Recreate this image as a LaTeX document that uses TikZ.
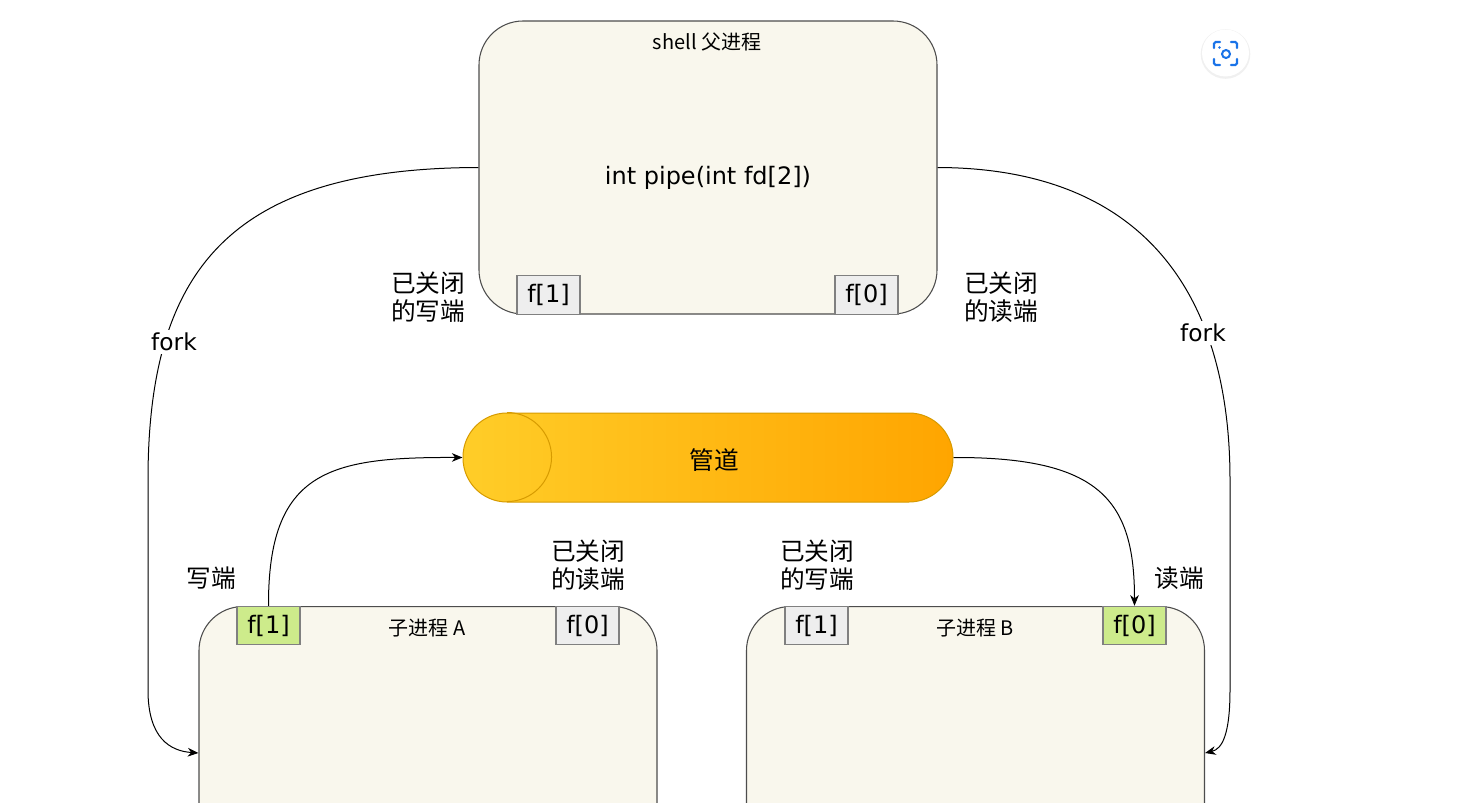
\documentclass[tikz,border=0pt]{standalone}
\usepackage{fontspec}
\setmainfont{DejaVu Sans}
\newfontfamily\cjk{Noto Sans CJK SC}
\usetikzlibrary{arrows.meta,calc}
\definecolor{cream}{HTML}{F9F7ED}
\definecolor{boxline}{HTML}{4D4D4D}
\definecolor{fdgrayfill}{HTML}{EEEEEE}
\definecolor{fdline}{HTML}{808080}
\definecolor{fdgreenfill}{HTML}{CDEB8B}
\definecolor{pipeL}{HTML}{FFCD28}
\definecolor{pipeR}{HTML}{FFA500}
\definecolor{pipeline}{HTML}{D79B00}
\definecolor{lensblue}{HTML}{1A73E8}
\begin{document}
\begin{tikzpicture}[x=0.75pt,y=0.75pt,
  proc/.style={draw=boxline, fill=cream, line width=0.8pt, rounded corners=33pt, inner sep=0pt, minimum width=343.5pt},
  fd/.style={draw=fdline, line width=0.8pt, inner sep=0pt, minimum width=47.25pt, minimum height=28.8pt, font=\fontsize{18}{21}\selectfont},
  fdg/.style={fd, fill=fdgrayfill},
  fdv/.style={fd, fill=fdgreenfill},
  cn/.style={font=\cjk\fontsize{18.5}{21}\selectfont, align=center, inner sep=1pt},
  ttl/.style={font=\cjk\fontsize{15}{17}\selectfont, inner sep=1pt},
  conn/.style={draw=black, line width=0.75pt, -{Stealth[length=8pt,width=6.5pt,inset=2.5pt]}},
  forklbl/.style={fill=white, inner sep=2pt, font=\fontsize{17.5}{20}\selectfont},
  pipestyle/.style={draw=pipeline, left color=pipeL, right color=pipeR, rounded corners=33pt, minimum width=367.5pt, minimum height=66.75pt, inner sep=0pt, line width=0.75pt}
]
\useasboundingbox (0,0) rectangle (1464,-803);
\fill[white] (0,0) rectangle (1464,-803);
\clip (0,0) rectangle (1464,-803);

% parent process
\node[proc, minimum height=219.75pt] (parent) at (708,-167.5) {};
\node[ttl] (ptitle) at (707,-42) {shell 父进程};
\node[font=\fontsize{18}{22}\selectfont] (call) at (708,-178) {int pipe(int fd[2])};
\node[fdg] (pf1) at (548.5,-295) {f[1]};
\node[fdg] (pf0) at (866.5,-295) {f[0]};

% children
\node[proc, minimum height=300pt, anchor=north] (chA) at (428,-606) {};
\node[proc, minimum height=300pt, anchor=north] (chB) at (975.5,-606) {};
\node[ttl] (atitle) at (427,-628) {子进程 A};
\node[ttl] (btitle) at (975,-628) {子进程 B};
\node[fdv] (af1) at (268.5,-625.5) {f[1]};
\node[fdg] (af0) at (587.5,-625.5) {f[0]};
\node[fdg] (bf1) at (816.5,-625.5) {f[1]};
\node[fdv] (bf0) at (1134.5,-625.5) {f[0]};

% pipe
\node[pipestyle] (pipe) at (708,-457.5) {};
\draw[pipeline, line width=0.75pt] ($(pipe.north west)+(44.5,0)$) arc[start angle=90, end angle=-90, x radius=33.4pt, y radius=33.4pt];
\node[font=\cjk\fontsize{18.5}{21}\selectfont] (pipetxt) at (714,-460) {管道};

% connectors
\draw[conn] (parent.west) .. controls (230,-168) and (148,-270) .. (148,-480) -- (148,-690) .. controls (148,-738) and (170,-751) .. ($(chA.north west)+(0,-147)$);
\draw[conn] (parent.east) .. controls (1140,-168) and (1230,-290) .. (1230,-480) -- (1230,-690) .. controls (1230,-735) and (1222,-749) .. ($(chB.north east)+(0,-147)$);
\draw[conn] (af1.north) .. controls (268,-470) and (330,-457) .. (pipe.west);
\draw[conn] (pipe.east) .. controls (1100,-457) and (1134.5,-500) .. (bf0.north);

\node[forklbl] (fkL) at (174,-342) {fork};
\node[forklbl] (fkR) at (1203,-333) {fork};

% labels
\node[cn] (lw) at (428,-297) {已关闭\\的写端};
\node[cn] (lr) at (1001,-297) {已关闭\\的读端};
\node[cn] (aw) at (211,-578) {写端};
\node[cn] (ar) at (588,-565) {已关闭\\的读端};
\node[cn] (bw) at (817,-565) {已关闭\\的写端};
\node[cn] (br) at (1179,-578) {读端};

% lens icon
\fill[black!6] (1225.5,-54) circle (18.6pt);
\fill[white] (1225.5,-53) circle (17.6pt);
\begin{scope}[lensblue, line width=1.6pt, line cap=round, rounded corners=1.2pt]
\draw (1214,-48) -- (1214,-42) -- (1220,-42);
\draw (1231,-42) -- (1237,-42) -- (1237,-48);
\draw (1237,-59) -- (1237,-65) -- (1231,-65);
\draw (1220,-65) -- (1214,-65) -- (1214,-59);
\end{scope}
\draw[lensblue, line width=1.5pt] (1226,-54) circle (3pt);
\fill[lensblue] (1219.5,-47.5) circle (1pt);
\end{tikzpicture}
\end{document}
